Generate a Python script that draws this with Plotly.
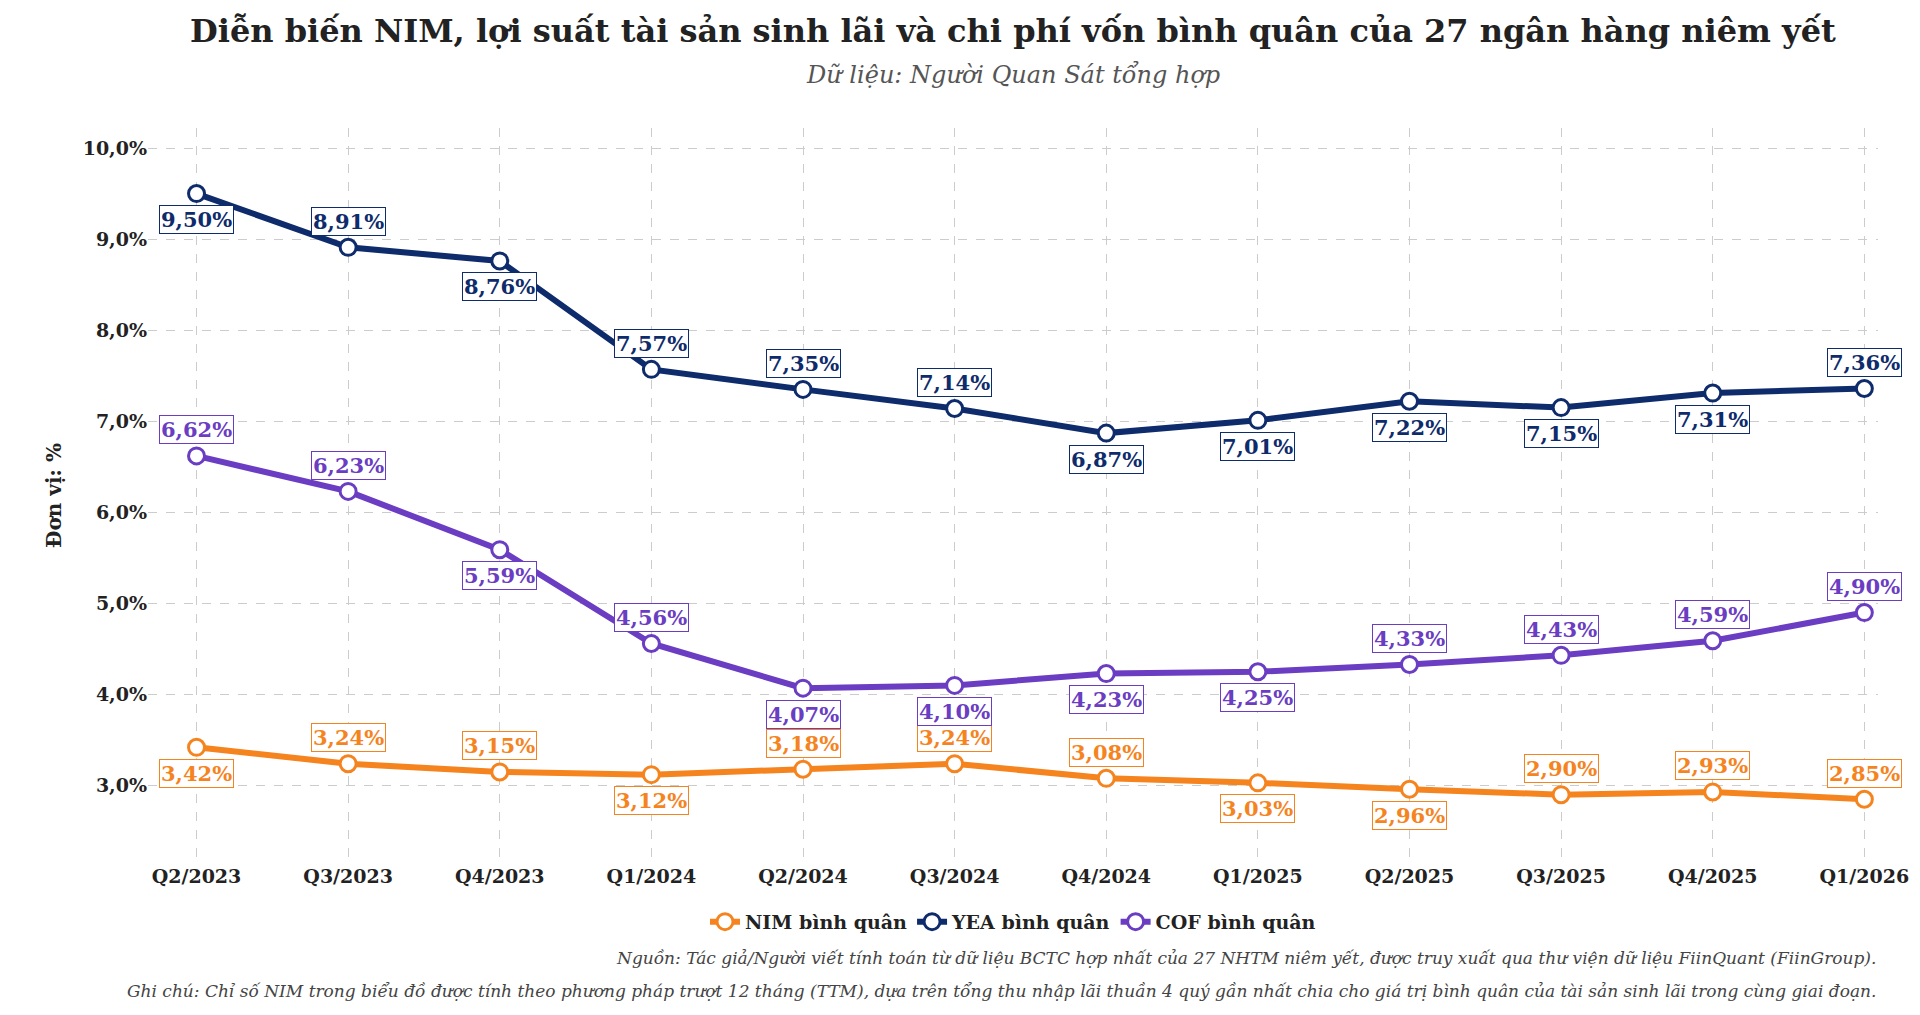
import plotly.graph_objects as go

quarters = ["Q2/2023","Q3/2023","Q4/2023","Q1/2024","Q2/2024","Q3/2024","Q4/2024","Q1/2025","Q2/2025","Q3/2025","Q4/2025","Q1/2026"]
nim = [3.42,3.24,3.15,3.12,3.18,3.24,3.08,3.03,2.96,2.90,2.93,2.85]
yea = [9.50,8.91,8.76,7.57,7.35,7.14,6.87,7.01,7.22,7.15,7.31,7.36]
cof = [6.62,6.23,5.59,4.56,4.07,4.10,4.23,4.25,4.33,4.43,4.59,4.90]
nim_pos = ["b","a","a","b","a","a","a","b","b","a","a","a"]
yea_pos = ["b","a","b","a","a","a","b","b","b","b","b","a"]
cof_pos = ["a","a","b","a","b","b","b","b","a","a","a","a"]

FONT = "DejaVu Serif"
series = [("NIM bình quân", nim, nim_pos, "#F5841F"),
          ("YEA bình quân", yea, yea_pos, "#0E2B6B"),
          ("COF bình quân", cof, cof_pos, "#6A3DC2")]

fig = go.Figure()
x = list(range(len(quarters)))
for name, vals, pos, col in series:
    fig.add_trace(go.Scatter(x=x, y=vals, mode="lines+markers", name=name,
        line=dict(color=col, width=6),
        marker=dict(size=16, color="white", line=dict(color=col, width=3))))
    for i, (v, p) in enumerate(zip(vals, pos)):
        fig.add_annotation(x=i, y=v, text=f"{v:.2f}%".replace(".", ","), showarrow=False,
            yshift=26 if p == "a" else -26,
            font=dict(family=FONT, size=21, color=col, weight="bold"),
            bgcolor="white", bordercolor=col, borderwidth=1, borderpad=1)

fig.update_layout(
    width=1920, height=1015, plot_bgcolor="white", paper_bgcolor="white",
    margin=dict(l=140, r=50, t=120, b=160),
    font=dict(family=FONT, color="#222"),
    xaxis=dict(tickmode="array", tickvals=x, ticktext=[f"<b>{q}</b>" for q in quarters],
               range=[-0.32, 11.09], showgrid=True, gridcolor="#cccccc", griddash="dash",
               tickfont=dict(size=19), zeroline=False),
    yaxis=dict(range=[2.15, 10.22], tickvals=[3,4,5,6,7,8,9,10],
               ticktext=[f"<b>{v},0%</b>" for v in range(3, 11)],
               showgrid=True, gridcolor="#cccccc", griddash="dash", tickfont=dict(size=19),
               title=dict(text="<b>Đơn vị: %</b>", font=dict(size=20)), zeroline=False),
    legend=dict(orientation="h", x=0.5, xanchor="center", y=-0.08, yanchor="middle",
                font=dict(size=19, weight="bold")),
)
fig.add_annotation(xref="paper", yref="paper", x=0.5, y=1.0, yshift=118, xanchor="center", yanchor="top",
    showarrow=False, text="<b>Diễn biến NIM, lợi suất tài sản sinh lãi và chi phí vốn bình quân của 27 ngân hàng niêm yết</b>",
    font=dict(size=32, color="#222"))
fig.add_annotation(xref="paper", yref="paper", x=0.5, y=1.0, yshift=70, xanchor="center", yanchor="top",
    showarrow=False, text="<i>Dữ liệu: Người Quan Sát tổng hợp</i>", font=dict(size=24, color="#555"))
fig.add_annotation(xref="paper", yref="paper", x=1.0, y=-0.145, xanchor="right", showarrow=False,
    text="<i>Nguồn: Tác giả/Người viết tính toán từ dữ liệu BCTC hợp nhất của 27 NHTM niêm yết, được truy xuất qua thư viện dữ liệu FiinQuant (FiinGroup).</i>",
    font=dict(size=17, color="#444"))
fig.add_annotation(xref="paper", yref="paper", x=1.0, y=-0.19, xanchor="right", showarrow=False,
    text="<i>Ghi chú: Chỉ số NIM trong biểu đồ được tính theo phương pháp trượt 12 tháng (TTM), dựa trên tổng thu nhập lãi thuần 4 quý gần nhất chia cho giá trị bình quân của tài sản sinh lãi trong cùng giai đoạn.</i>",
    font=dict(size=17, color="#444"))
fig.write_html("out.html")
